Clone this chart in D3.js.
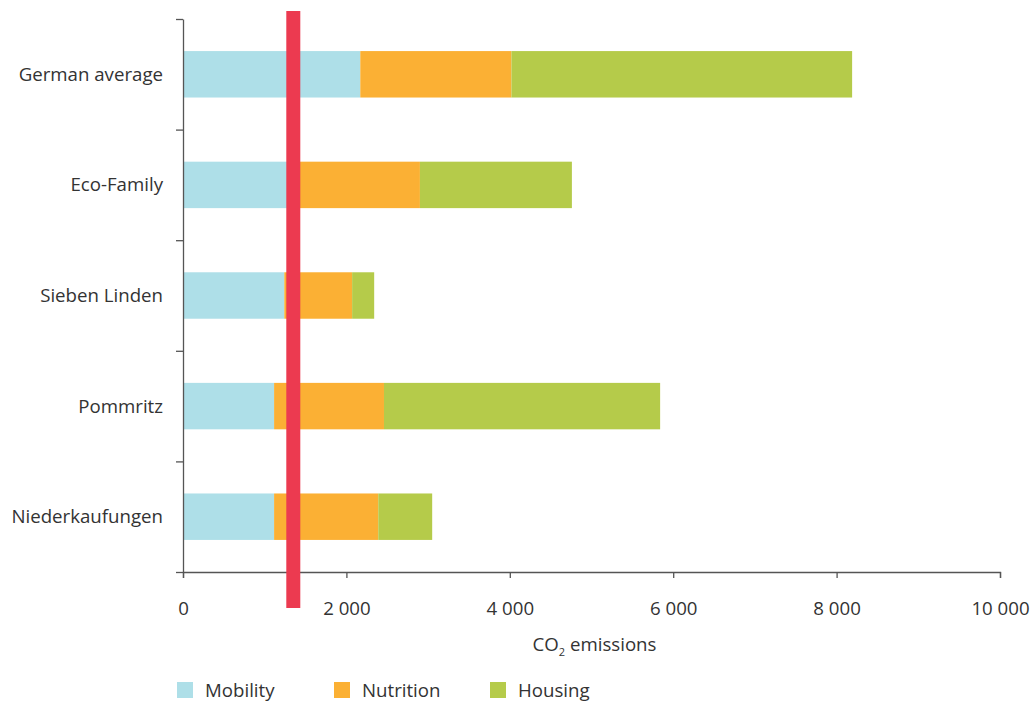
<!DOCTYPE html>
<html>
<head>
<meta charset="utf-8">
<script src="https://cdn.jsdelivr.net/npm/d3@7"></script>
<style>
	body { margin: 0; background: #fff; }
	svg text { font-family: "Open Sans", sans-serif; fill: #333; }
</style>
</head>
<body>
<svg id="chart" width="1035" height="702"></svg>
<script>
// chart data
var categories = ["German average", "Eco-Family", "Sieben Linden", "Pommritz", "Niederkaufungen"];
var mobility = [2170, 1300, 1240, 1115, 1115];
var nutrition = [1850, 1600, 830, 1345, 1275];
var housing = [4170, 1860, 270, 3380, 660];
var seriesNames = ["Mobility", "Nutrition", "Housing"];
var seriesColors = ["#aedfe8", "#fbb034", "#b5cb4a"];
var xTicks = [0, 2000, 4000, 6000, 8000, 10000];
var targetValue = 1350;

var svg = d3.select("#chart");
var fontSize = "14pt";

// scales
var x = d3.scaleLinear().domain([0, 10000]).range([183, 1000]);
var y = d3.scaleBand().domain(categories).range([19, 572]).paddingInner(0.58).paddingOuter(0.29);
var yEdges = d3.scaleLinear().domain([0, categories.length]).range([19, 572]);

// stack the three series per category
var rows = categories.map(function(c, i){
	return {cat: c, Mobility: mobility[i], Nutrition: nutrition[i], Housing: housing[i]};
});
var stacked = d3.stack().keys(seriesNames)(rows);

svg.append("g").selectAll("g")
	.data(stacked)
	.join("g")
	.attr("fill", function(d, i){ return seriesColors[i]; })
	.selectAll("rect")
	.data(function(d){ return d; })
	.join("rect")
	.attr("x", function(d){ return x(d[0]); })
	.attr("width", function(d){ return x(d[1]) - x(d[0]); })
	.attr("y", function(d){ return y(d.data.cat); })
	.attr("height", y.bandwidth());

// y axis: ticks sit between the categories, labels are drawn at band centres
var yAxis = svg.append("g")
	.attr("transform", "translate(183,0)")
	.call(d3.axisLeft(yEdges).tickValues(d3.range(categories.length + 1)).tickFormat("").tickSize(7).tickSizeOuter(0));
yAxis.selectAll("path, line").attr("stroke", "#555").attr("stroke-width", 1.3);

svg.append("g").selectAll("text")
	.data(categories)
	.join("text")
	.attr("x", 163)
	.attr("y", function(d){ return y(d) + y.bandwidth() / 2; })
	.attr("dy", "0.35em")
	.attr("text-anchor", "end")
	.style("font-size", fontSize)
	.text(function(d){ return d; });

// x axis
var xAxis = svg.append("g")
	.attr("transform", "translate(0,572)")
	.call(d3.axisBottom(x).tickValues(xTicks).tickSize(6).tickPadding(24)
		.tickFormat(function(d){ return d3.format(",")(d).replace(/,/g, " "); }));
xAxis.selectAll("path, line").attr("stroke", "#555").attr("stroke-width", 1.3);
xAxis.selectAll("text").style("font-size", fontSize).attr("fill", "#333").style("font-family", "'Open Sans', sans-serif");

// red target line
svg.append("rect")
	.attr("x", x(targetValue) - 7)
	.attr("width", 14)
	.attr("y", 11)
	.attr("height", 597)
	.attr("fill", "#ec3a50");

// axis title with subscript
var title = svg.append("text")
	.attr("x", (x(0) + x(10000)) / 2 + 3)
	.attr("y", 651)
	.attr("text-anchor", "middle")
	.style("font-size", fontSize);
title.append("tspan").text("CO");
title.append("tspan").attr("dy", 5).style("font-size", "11px").text("2");
title.append("tspan").attr("dy", -5).text(" emissions");

// legend
var legendX = [177, 334, 490];
var legend = svg.append("g").selectAll("g")
	.data(seriesNames)
	.join("g")
	.attr("transform", function(d, i){ return "translate(" + legendX[i] + ",682)"; });
legend.append("rect").attr("width", 16).attr("height", 16)
	.attr("fill", function(d, i){ return seriesColors[i]; });
legend.append("text").attr("x", 28).attr("y", 15)
	.style("font-size", fontSize)
	.text(function(d){ return d; });
</script>
</body>
</html>
